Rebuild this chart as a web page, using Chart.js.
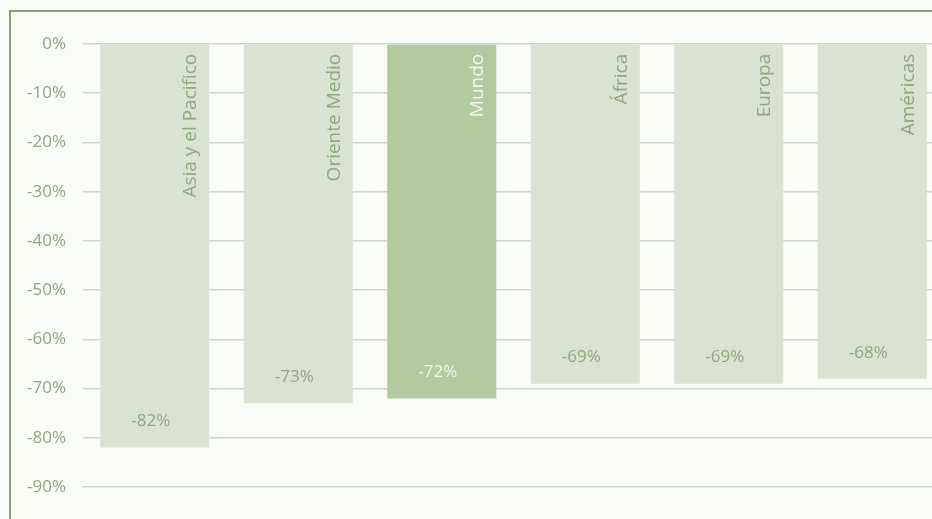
<!DOCTYPE html>
<html>
<head>
<meta charset="utf-8">
<script src="https://cdn.jsdelivr.net/npm/chart.js@4"></script>
<style>
  html, body { margin: 0; padding: 0; overflow: hidden; background: #fafcf8; }
  #wrap { position: relative; width: 944px; height: 519px; }
</style>
</head>
<body>
<div id="wrap"><canvas id="chart"></canvas></div>
<script>
// regiones y caída de llegadas
const regiones = ['Asia y el Pacifico', 'Oriente Medio', 'Mundo', 'África', 'Europa', 'Américas'];
const valores = [-82, -73, -72, -69, -69, -68];
const colores = ['#d9e3cf', '#d9e3cf', '#b1cb9f', '#d9e3cf', '#d9e3cf', '#d9e3cf'];
const colorTexto = ['#8ea77e', '#8ea77e', '#f3f7ee', '#8ea77e', '#8ea77e', '#8ea77e'];
const FONT = '"Open Sans", "Noto Sans", sans-serif';

// marco verde arriba y a la izquierda
const marco = {
    id: 'marco',
    beforeDraw(chart) {
        const c = chart.ctx;
        c.save();
        c.strokeStyle = '#8c9e74';
        c.lineWidth = 2;
        c.beginPath();
        c.moveTo(10, 519);
        c.lineTo(10, 11);
        c.lineTo(chart.width, 11);
        c.stroke();
        c.restore();
    }
};

// etiquetas dentro de las barras
const etiquetas = {
    id: 'etiquetas',
    afterDatasetsDraw(chart) {
        const c = chart.ctx;
        const meta = chart.getDatasetMeta(0);
        c.save();
        meta.data.forEach((bar, i) => {
            const right = bar.x + bar.width / 2;
            // nombre de la región, girado
            c.save();
            c.translate(right - 13, bar.base + 9);
            c.rotate(-Math.PI / 2);
            c.font = '19px ' + FONT;
            c.fillStyle = colorTexto[i];
            c.textAlign = 'right';
            c.textBaseline = 'alphabetic';
            c.fillText(regiones[i], 0, 0);
            c.restore();
            // valor
            c.font = '17px ' + FONT;
            c.fillStyle = colorTexto[i];
            c.textAlign = 'center';
            c.textBaseline = 'middle';
            c.fillText(valores[i] + '%', bar.x - 4, bar.y - 26);
        });
        c.restore();
    }
};

new Chart(document.getElementById('chart'), {
    type: 'bar',
    data: {
        labels: regiones,
        datasets: [{
            data: valores,
            backgroundColor: colores,
            barPercentage: 0.76,
            categoryPercentage: 1
        }]
    },
    options: {
        responsive: true,
        maintainAspectRatio: false,
        animation: false,
        layout: { padding: { top: 44, bottom: 32, left: 0, right: 0 } },
        plugins: {
            legend: { display: false },
            tooltip: { enabled: false }
        },
        scales: {
            x: { display: false },
            y: {
                min: -90,
                max: 0,
                afterFit(scale) { scale.width = 83; },
                border: { display: false },
                grid: { color: '#cfd4ca', lineWidth: 1.5, drawTicks: false },
                ticks: {
                    stepSize: 10,
                    padding: 17,
                    color: '#8ea77e',
                    font: { family: FONT, size: 17 },
                    callback: v => v + '%'
                }
            }
        }
    },
    plugins: [marco, etiquetas]
});
</script>
</body>
</html>
